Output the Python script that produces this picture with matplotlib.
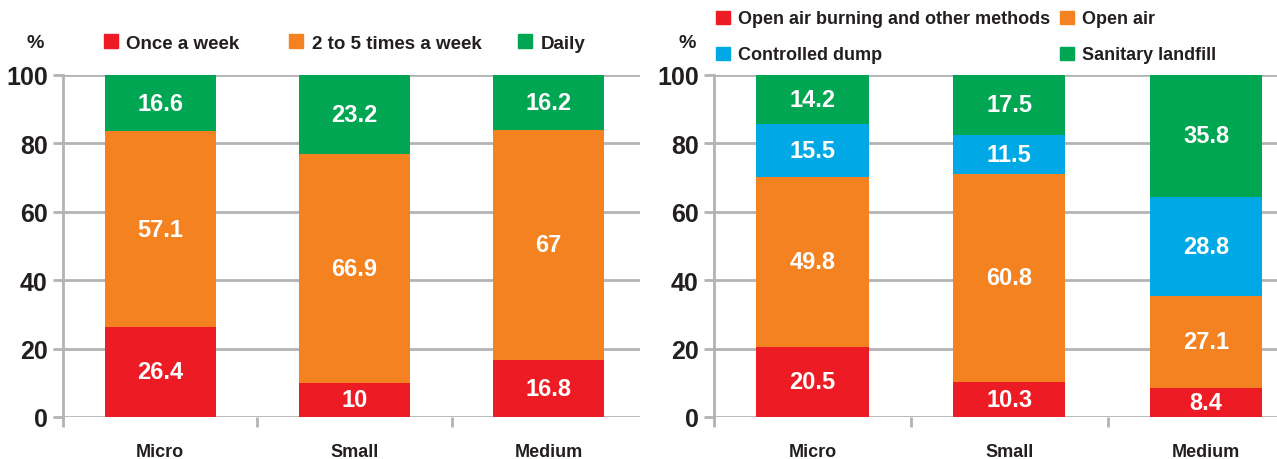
import matplotlib
matplotlib.use("Agg")
import matplotlib.pyplot as plt
from matplotlib.patches import Patch

plt.rcParams['font.family'] = ['Liberation Sans', 'DejaVu Sans']
plt.rcParams['font.weight'] = 'bold'

categories = ["Micro", "Small", "Medium"]

left_series = ["Once a week", "2 to 5 times a week", "Daily"]
once_week = [26.4, 10, 16.8]
two_five = [57.1, 66.9, 67]
daily = [16.6, 23.2, 16.2]

right_series = ["Open air burning and other methods", "Open air", "Controlled dump", "Sanitary landfill"]
burning = [20.5, 10.3, 8.4]
open_air = [49.8, 60.8, 27.1]
controlled = [15.5, 11.5, 28.8]
sanitary = [14.2, 17.5, 35.8]

yticks = [0, 20, 40, 60, 80, 100]

RED = '#ED1C24'
ORANGE = '#F58220'
GREEN = '#00A651'
BLUE = '#00A9E6'
GRID = '#B3B3B3'
TXT = '#231F20'

W, H = 1277, 460
fig = plt.figure(figsize=(W / 100, H / 100), dpi=100)


def make_ax(l, r, b, t, xmax):
    ax = fig.add_axes([l / W, 1 - b / H, (r - l) / W, (b - t) / H])
    ax.set_ylim(0, 100)
    ax.set_xlim(-0.5, xmax)
    ax.set_yticks(yticks)
    ax.set_yticklabels([str(v) for v in yticks], fontsize=18, fontweight='bold', color=TXT)
    ax.yaxis.grid(True, color=GRID, linewidth=2)
    ax.set_axisbelow(True)
    for s in ['top', 'right', 'bottom']:
        ax.spines[s].set_visible(False)
    ax.spines['left'].set_color(GRID)
    ax.spines['left'].set_linewidth(2)
    ax.tick_params(axis='y', length=7, width=2, color=GRID, pad=4)
    ax.set_xticks([-0.5, 0.5, 1.5])
    ax.set_xticklabels([])
    ax.tick_params(axis='x', length=7, width=2, color=GRID)
    for i, c in enumerate(categories):
        ax.text(i, -7.5, c, ha='center', va='top', fontsize=13, fontweight='bold', color=TXT)
    return ax


def stack(ax, series, colors):
    bottom = [0, 0, 0]
    x = list(range(len(categories)))
    for vals, col in zip(series, colors):
        ax.bar(x, vals, width=0.57, bottom=bottom, color=col, zorder=2)
        for i, v in enumerate(vals):
            ax.text(i, bottom[i] + v / 2, f"{v:g}", ha='center', va='center',
                    color='white', fontsize=17, fontweight='bold', zorder=3)
        bottom = [b + v for b, v in zip(bottom, vals)]


axL = make_ax(63, 640, 418, 76, 2.47)
stack(axL, [once_week, two_five, daily], [RED, ORANGE, GREEN])

axR = make_ax(714, 1277, 418, 76, 2.36)
stack(axR, [burning, open_air, controlled, sanitary], [RED, ORANGE, BLUE, GREEN])

fig.text(35 / W, 1 - 44 / H, "%", ha='center', va='center', fontsize=14, fontweight='bold', color=TXT)
fig.text(687 / W, 1 - 44 / H, "%", ha='center', va='center', fontsize=14, fontweight='bold', color=TXT)


def legend_item(label, color, x, y, size):
    leg = fig.legend([Patch(color=color)], [label], loc='center left',
                     bbox_to_anchor=(x / W, 1 - y / H), frameon=False,
                     handlelength=0.75, handleheight=0.75, handletextpad=0.45,
                     prop={'size': size, 'weight': 'bold'}, borderaxespad=0, borderpad=0)
    for t in leg.get_texts():
        t.set_color(TXT)


left_pos = [(104, 44), (289, 44), (518, 44)]
for lab, col, (x, y) in zip(left_series, [RED, ORANGE, GREEN], left_pos):
    legend_item(lab, col, x, y, 13.5)

right_pos = [(716, 20), (1060, 20), (716, 56), (1060, 56)]
for lab, col, (x, y) in zip(right_series, [RED, ORANGE, BLUE, GREEN], right_pos):
    legend_item(lab, col, x, y, 13)

fig.savefig("out.png", dpi=100)
